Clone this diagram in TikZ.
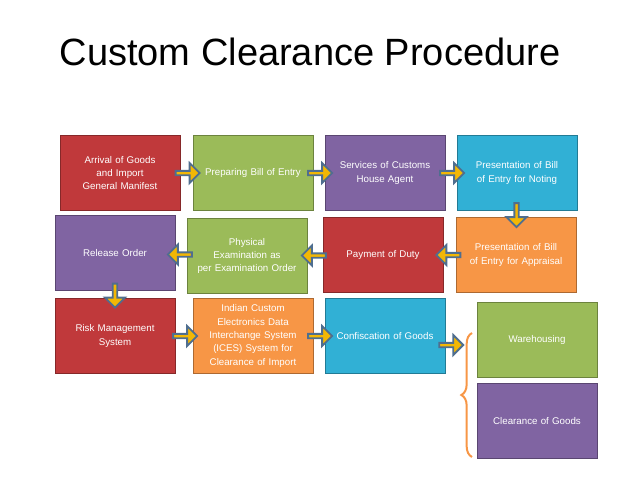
\documentclass[tikz,border=0pt]{standalone}
\usepackage{fontspec}
\usepackage[none]{hyphenat}
\setmainfont{Liberation Sans}
\usetikzlibrary{shapes.arrows,positioning,calc,decorations.pathreplacing}
\definecolor{myred}{HTML}{C0393B}
\definecolor{mygreen}{HTML}{9BBB59}
\definecolor{mypurple}{HTML}{8064A2}
\definecolor{myblue}{HTML}{31B0D5}
\definecolor{myorange}{HTML}{F79646}
\definecolor{myyellow}{HTML}{F2B705}
\definecolor{myedge}{HTML}{4F6E8F}
\tikzset{
  stepbox/.style={draw=#1!70!black,fill=#1,text=white,align=center,
    minimum width=90pt,minimum height=56pt,text width=76pt,inner sep=1pt,
    font=\fontsize{7.3}{10}\selectfont},
  fatarrow/.style={single arrow,fill=myyellow,draw=myedge,line width=1.4pt,
    minimum height=18pt,minimum width=15pt,single arrow head extend=2.5pt,inner sep=0pt},
}
\begin{document}
\begin{tikzpicture}[x=0.75pt,y=-0.75pt]
    \useasboundingbox (0,0) rectangle (638,479);
    \node[font=\fontsize{28.5}{30}\selectfont] (title) at (310,52) {Custom Clearance Procedure};

    % first row
    \node[stepbox=myred] (arrival) at (120,173) {Arrival of Goods and Import General Manifest};
    \node[stepbox=mygreen] (bill) at (253,173) {Preparing Bill of Entry};
    \node[stepbox=mypurple] (agent) at (385,173) {Services of Customs House Agent};
    \node[stepbox=myblue] (noting) at (517,173) {Presentation of Bill of Entry for Noting};

    % second row
    \node[stepbox=mypurple] (release) at (115,253) {Release Order};
    \node[stepbox=mygreen] (physical) at (247,256) {Physical Examination as per Examination Order};
    \node[stepbox=myred] (payment) at (383,255) {Payment of Duty};
    \node[stepbox=myorange] (appraisal) at (516,255) {Presentation of Bill of Entry for Appraisal};

    % third row
    \node[stepbox=myred] (risk) at (115,336) {Risk Management System};
    \node[stepbox=myorange] (ices) at (253,336) {Indian Custom Electronics Data Interchange System (ICES) System for Clearance of Import};
    \node[stepbox=myblue] (confis) at (385,336) {Confiscation of Goods};
    \node[stepbox=mygreen] (ware) at (537,340) {Warehousing};
    \node[stepbox=mypurple] (clear) at (537,421) {Clearance of Goods};

    % arrows between steps
    \node[fatarrow] at ($(arrival.east)!0.5!(bill.west)$) {};
    \node[fatarrow] at ($(bill.east)!0.5!(agent.west)$) {};
    \node[fatarrow] at ($(agent.east)!0.5!(noting.west)$) {};
    \node[fatarrow,rotate=-90] at ($(noting.south)!0.5!(appraisal.north)$) {};
    \node[fatarrow,rotate=180] at ($(appraisal.west)!0.5!(payment.east)$) {};
    \node[fatarrow,rotate=180] at ($(payment.west)!0.5!(physical.east)$) {};
    \node[fatarrow,rotate=180] at ($(physical.west)!0.5!(release.east)$) {};
    \node[fatarrow,rotate=-90] at ($(release.south)!0.5!(risk.north)$) {};
    \node[fatarrow] at ($(risk.east)!0.5!(ices.west)$) {};
    \node[fatarrow] at ($(ices.east)!0.5!(confis.west)$) {};
    \coordinate (tip) at (455,345);
    \node[fatarrow] at ($(confis.east|-tip)!0.5!(tip)$) {};

    \draw[myorange,line width=1.5pt,decorate,decoration={brace,amplitude=8pt,mirror}]
      (472,333) -- (472,457);
\end{tikzpicture}
\end{document}
